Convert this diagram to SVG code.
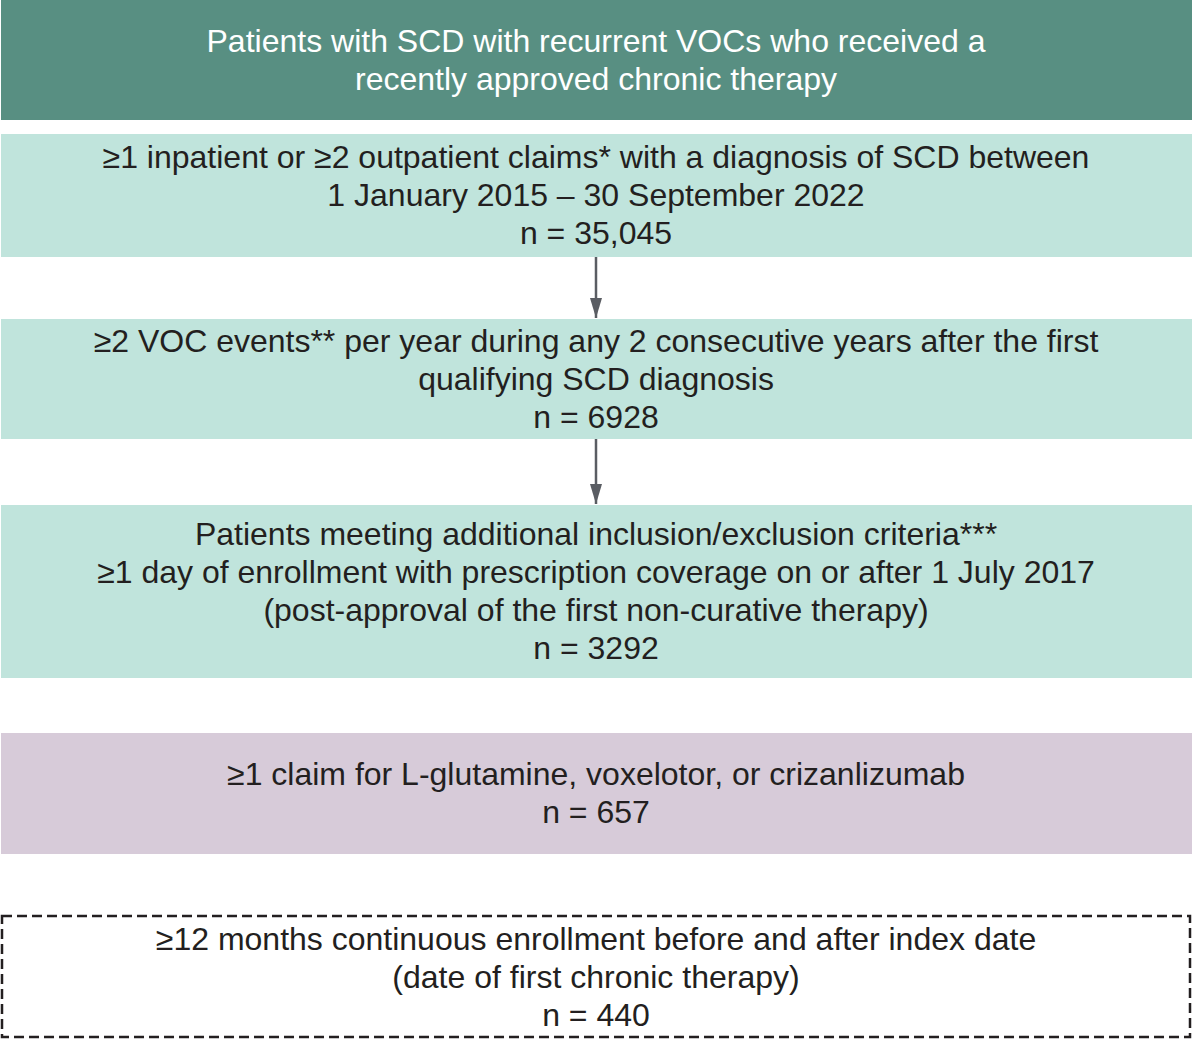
<svg xmlns="http://www.w3.org/2000/svg" width="1192" height="1039" viewBox="0 0 1192 1039">
<defs>
<style>
.t{font-family:"Liberation Sans",Arial,sans-serif;font-size:32px;fill:#231f20;text-anchor:middle}
.w{fill:#ffffff}
.dark{fill:#588f82}
.light{fill:#c0e4dc}
.purple{fill:#d7cbd9}
.dash{fill:#ffffff;stroke:#231f20;stroke-width:2.5;stroke-dasharray:10 5}
.conn{stroke:#5a5d63;stroke-width:2.5;fill:none}
</style>
<marker id="ah" viewBox="0 0 20 12" refX="20" refY="6" markerWidth="20" markerHeight="12" markerUnits="userSpaceOnUse" orient="auto-start-reverse">
<path d="M0,0 L20,6 L0,12 Z" fill="#5a5d63"/>
</marker>
</defs>
<rect width="1192" height="1039" fill="#ffffff"/>
<g id="n0">
<rect class="dark" x="1" y="0" width="1191" height="120"/>
<text class="t w" x="596" y="52">Patients with SCD with recurrent VOCs who received a</text>
<text class="t w" x="596" y="90">recently approved chronic therapy</text>
</g>
<g id="n1">
<rect class="light" x="1" y="134" width="1191" height="123"/>
<text class="t" x="596" y="168">≥1 inpatient or ≥2 outpatient claims* with a diagnosis of SCD between</text>
<text class="t" x="596" y="206">1 January 2015 – 30 September 2022</text>
<text class="t" x="596" y="244">n = 35,045</text>
</g>
<g id="n2">
<rect class="light" x="1" y="319" width="1191" height="120"/>
<text class="t" x="596" y="352">≥2 VOC events** per year during any 2 consecutive years after the first</text>
<text class="t" x="596" y="390">qualifying SCD diagnosis</text>
<text class="t" x="596" y="428">n = 6928</text>
</g>
<g id="n3">
<rect class="light" x="1" y="505" width="1191" height="173"/>
<text class="t" x="596" y="545">Patients meeting additional inclusion/exclusion criteria***</text>
<text class="t" x="596" y="583">≥1 day of enrollment with prescription coverage on or after 1 July 2017</text>
<text class="t" x="596" y="621">(post-approval of the first non-curative therapy)</text>
<text class="t" x="596" y="659">n = 3292</text>
</g>
<g id="n4">
<rect class="purple" x="1" y="733" width="1191" height="121"/>
<text class="t" x="596" y="785">≥1 claim for L-glutamine, voxelotor, or crizanlizumab</text>
<text class="t" x="596" y="823">n = 657</text>
</g>
<g id="n5">
<rect class="dash" x="2" y="916" width="1188" height="121"/>
<text class="t" x="596" y="950">≥12 months continuous enrollment before and after index date</text>
<text class="t" x="596" y="988">(date of first chronic therapy)</text>
<text class="t" x="596" y="1026">n = 440</text>
</g>
<g id="connectors">
<line class="conn" x1="596" y1="257" x2="596" y2="318" marker-end="url(#ah)"/>
<line class="conn" x1="596" y1="439" x2="596" y2="504" marker-end="url(#ah)"/>
</g>
</svg>
